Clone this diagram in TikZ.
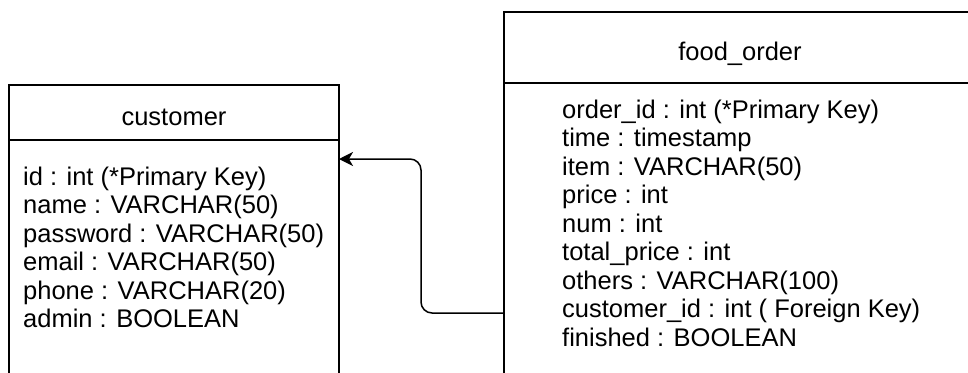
\documentclass[tikz,border=0pt]{standalone}
\usepackage{fontspec}
\setmainfont{Liberation Sans}
\usetikzlibrary{arrows.meta,positioning}

\begin{document}
\begin{tikzpicture}[x=1pt, y=-1pt, every node/.style={font=\fontsize{25.5}{28.5}\selectfont}, head/.style={draw, line width=1.5pt, outer sep=0pt, inner sep=0pt, text height=25pt, text depth=0pt}, table/.style={draw, line width=1.5pt, outer sep=0pt, inner sep=0pt}, fields/.style={align=left, inner sep=0pt, anchor=base west}, link/.style={-{Stealth[length=14pt, width=14pt, inset=4pt]}, line width=1.5pt, rounded corners=11pt}]
\clip (0,0) rectangle (968,372);
\node[head, minimum width=330pt, minimum height=55pt] (chead) at (174,112.5) {customer};
\node[table, minimum width=330pt, minimum height=260pt, below=0pt of chead] (cbody) {};
\node[head, minimum width=472pt, minimum height=71pt] (fhead) at (740,47.5) {food\_order};
\node[table, minimum width=472pt, minimum height=317pt, below=0pt of fhead] (fbody) {};
% base anchor sits on the last line
\node[fields] (cfields) at (23,327.5) {id : int (*Primary Key)\\name : VARCHAR(50)\\password : VARCHAR(50)\\email : VARCHAR(50)\\phone : VARCHAR(20)\\admin : BOOLEAN};
\node[fields] (ffields) at (562,346) {order\_id : int (*Primary Key)\\time : timestamp\\item : VARCHAR(50)\\price : int\\num : int\\total\_price : int\\others : VARCHAR(100)\\customer\_id : int ( Foreign Key)\\finished : BOOLEAN};
\coordinate (fk) at (fbody.west |- 0,313);
\coordinate (pk) at (cbody.east |- 0,159);
\coordinate (bend) at (421,0);
\draw[link] (fk) -| (bend |- pk) -- (pk);
\end{tikzpicture}
\end{document}
